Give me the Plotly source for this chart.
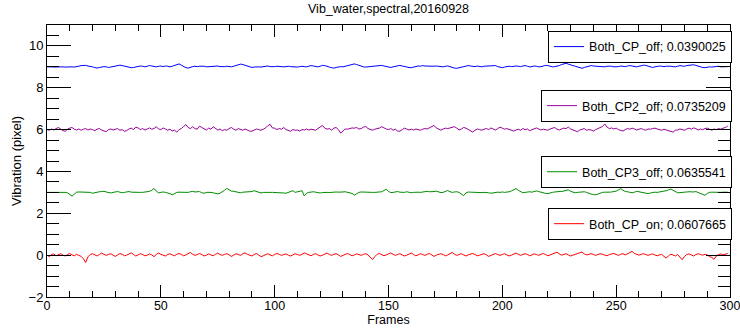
import plotly.graph_objects as go

frames = list(range(300))

blue = [
9.00, 9.01, 9.00, 8.99, 9.00, 9.01, 9.00, 9.00, 8.99, 9.00, 9.01, 9.00, 8.99, 9.00, 9.03, 9.06, 9.08, 9.07, 9.04, 9.03,
9.00, 8.97, 8.94, 8.97, 9.00, 9.01, 9.00, 8.97, 8.99, 9.01, 9.04, 9.07, 9.08, 9.06, 9.03, 9.00, 8.97, 8.96, 8.97, 9.00,
9.03, 9.04, 9.03, 9.00, 9.03, 9.06, 9.04, 9.01, 9.00, 9.03, 9.04, 9.01, 9.04, 9.03, 9.00, 9.03, 9.07, 9.11, 9.14, 9.08,
9.01, 8.96, 8.94, 8.99, 9.01, 9.03, 9.01, 9.03, 9.04, 9.03, 9.00, 9.01, 9.03, 9.01, 9.03, 9.04, 9.01, 9.00, 9.01, 9.03,
9.01, 9.00, 9.03, 9.06, 9.10, 9.13, 9.11, 9.07, 9.03, 9.00, 8.97, 8.99, 9.01, 9.00, 8.99, 9.00, 9.03, 9.04, 9.01, 9.00,
9.01, 9.03, 9.01, 8.99, 9.00, 9.01, 9.03, 9.01, 9.00, 8.97, 8.99, 9.01, 9.03, 9.01, 9.00, 9.03, 9.06, 9.04, 9.01, 9.00,
9.03, 9.07, 9.06, 9.01, 8.99, 8.96, 8.94, 8.97, 9.00, 9.01, 9.00, 9.03, 9.06, 9.10, 9.13, 9.14, 9.11, 9.07, 9.03, 9.00,
8.99, 9.00, 9.01, 9.00, 9.01, 9.03, 9.06, 9.07, 9.04, 9.01, 8.99, 8.97, 9.00, 9.03, 9.06, 9.07, 9.04, 9.01, 9.00, 8.97,
8.96, 8.99, 9.01, 9.04, 9.03, 9.06, 9.04, 9.03, 9.04, 9.01, 9.03, 9.04, 9.03, 9.01, 9.00, 9.03, 9.04, 9.01, 8.97, 8.94,
8.93, 8.96, 9.00, 9.03, 9.06, 9.06, 9.04, 9.03, 9.01, 9.04, 9.03, 9.00, 9.03, 9.04, 9.03, 9.06, 9.08, 9.06, 9.01, 8.97,
8.96, 8.99, 9.01, 9.03, 9.01, 9.03, 9.04, 9.03, 9.01, 9.04, 9.06, 9.03, 9.00, 9.01, 9.04, 9.03, 9.00, 9.01, 9.04, 9.07,
9.06, 9.03, 9.00, 9.01, 9.03, 9.06, 9.11, 9.15, 9.17, 9.13, 9.08, 9.06, 9.03, 8.99, 8.94, 8.93, 8.97, 9.01, 9.04, 9.06,
9.04, 9.03, 9.04, 9.03, 9.01, 9.00, 9.03, 9.04, 9.03, 9.00, 8.99, 9.01, 9.04, 9.03, 9.01, 9.04, 9.06, 9.04, 9.03, 9.00,
9.03, 9.06, 9.08, 9.07, 9.03, 9.00, 8.97, 9.00, 9.03, 9.04, 9.03, 9.01, 9.03, 9.04, 9.03, 9.01, 9.00, 9.03, 9.06, 9.04,
9.03, 9.06, 9.08, 9.11, 9.10, 9.07, 9.03, 9.00, 8.97, 8.96, 8.99, 9.00, 8.99, 9.01, 9.04, 9.03, 9.00, 9.01, 9.03, 9.01,
]

purple = [
6.00, 5.97, 6.03, 5.98, 6.05, 6.10, 6.03, 5.95, 5.92, 6.02, 6.07, 6.10, 6.02, 5.98, 6.03, 5.97, 6.02, 6.05, 5.98, 6.03,
6.00, 5.95, 6.02, 6.05, 5.98, 5.93, 5.90, 6.00, 6.03, 5.98, 6.02, 6.05, 5.97, 6.00, 5.92, 5.95, 6.03, 6.07, 6.00, 6.12,
6.08, 6.00, 6.05, 5.98, 6.03, 6.08, 6.02, 6.05, 6.14, 6.03, 6.00, 6.08, 6.03, 5.97, 6.02, 5.93, 5.98, 5.88, 6.00, 6.05,
6.15, 6.24, 6.10, 6.05, 6.14, 6.05, 6.02, 6.17, 6.10, 6.03, 5.98, 6.07, 6.02, 6.14, 6.05, 5.98, 6.03, 5.95, 6.00, 5.97,
6.05, 6.10, 6.02, 5.97, 6.05, 6.00, 5.97, 6.03, 5.98, 5.93, 5.92, 5.97, 6.03, 6.00, 5.97, 6.02, 6.08, 6.19, 6.25, 6.08,
6.07, 6.00, 6.05, 6.02, 6.10, 6.00, 5.95, 5.92, 6.00, 5.97, 5.98, 5.93, 6.00, 5.98, 6.03, 5.98, 6.02, 6.00, 5.97, 6.05,
6.14, 6.20, 6.07, 6.02, 6.05, 5.97, 6.07, 6.10, 6.00, 5.83, 5.93, 6.03, 6.02, 6.05, 6.08, 6.07, 6.10, 6.03, 6.05, 6.12,
6.15, 6.05, 6.00, 5.97, 6.02, 6.03, 6.07, 6.14, 6.07, 6.03, 6.00, 6.05, 5.97, 6.02, 5.93, 5.92, 6.00, 6.07, 6.03, 5.98,
6.02, 5.98, 6.03, 6.00, 5.97, 6.02, 6.05, 6.03, 6.10, 6.17, 6.20, 6.08, 6.02, 5.97, 6.03, 6.07, 6.05, 6.08, 6.12, 6.14,
6.07, 5.98, 6.03, 6.10, 6.07, 6.02, 5.95, 5.88, 5.97, 6.03, 6.00, 5.97, 6.02, 6.05, 6.00, 6.08, 6.03, 5.98, 6.05, 6.12,
6.07, 6.02, 6.05, 6.00, 5.97, 5.93, 5.98, 6.02, 5.97, 6.05, 6.00, 6.03, 5.95, 6.00, 6.05, 6.08, 6.03, 5.98, 6.02, 6.00,
5.97, 6.03, 6.07, 6.10, 6.02, 5.98, 6.03, 6.07, 6.05, 6.12, 6.03, 5.98, 5.95, 5.90, 5.98, 6.02, 6.05, 5.97, 6.00, 5.98,
5.93, 6.00, 6.05, 6.08, 6.15, 6.27, 6.12, 6.05, 6.08, 6.03, 6.07, 6.00, 5.97, 5.93, 6.00, 6.05, 6.02, 6.07, 6.03, 5.98,
6.02, 6.05, 6.00, 5.97, 6.03, 6.02, 6.05, 6.07, 6.03, 6.00, 5.97, 6.02, 5.98, 5.93, 5.90, 5.88, 5.97, 5.98, 6.03, 6.00,
5.97, 6.03, 6.07, 6.02, 6.08, 6.05, 5.98, 6.03, 6.00, 6.05, 6.07, 6.02, 5.97, 6.03, 6.00, 6.05, 6.02, 6.07, 6.10, 6.17,
]

green = [
3.00, 3.00, 3.01, 3.02, 3.01, 3.02, 3.01, 2.99, 3.00, 2.98, 2.92, 2.82, 2.92, 3.01, 3.02, 3.02, 3.02, 3.02, 3.01, 3.00,
2.96, 2.99, 3.01, 3.03, 3.04, 3.05, 3.02, 2.99, 2.97, 3.00, 3.02, 3.04, 3.01, 2.98, 3.00, 3.03, 3.04, 3.01, 3.00, 3.02,
3.01, 3.00, 3.00, 3.01, 3.03, 3.05, 3.10, 3.19, 3.06, 2.98, 3.00, 3.02, 3.00, 2.98, 2.94, 2.88, 2.95, 3.00, 3.01, 3.00,
3.02, 3.01, 3.00, 3.03, 3.05, 3.02, 3.03, 3.04, 2.98, 2.96, 3.00, 3.01, 3.00, 2.98, 2.97, 2.93, 2.96, 3.02, 3.10, 3.19,
3.12, 3.06, 3.05, 3.02, 3.00, 2.98, 3.01, 3.02, 3.03, 3.01, 3.04, 3.08, 3.05, 2.99, 2.97, 3.00, 3.01, 3.00, 3.00, 3.00,
3.00, 3.00, 2.99, 2.98, 2.97, 2.96, 3.00, 3.04, 3.08, 3.00, 3.02, 3.06, 3.08, 2.83, 2.96, 3.00, 3.02, 3.03, 3.01, 2.99,
2.97, 2.99, 3.01, 3.00, 2.99, 3.01, 3.00, 3.02, 3.01, 3.00, 3.02, 3.03, 3.01, 2.99, 2.95, 2.86, 2.95, 3.00, 3.02, 3.01,
3.00, 3.00, 3.01, 3.00, 3.00, 3.01, 3.00, 3.03, 3.09, 3.15, 3.05, 2.99, 3.00, 3.02, 3.04, 3.01, 2.99, 3.00, 3.03, 3.01,
2.98, 3.00, 3.02, 3.01, 3.00, 3.02, 3.04, 3.05, 3.03, 3.02, 3.04, 3.06, 3.03, 2.99, 3.00, 3.04, 3.09, 3.03, 3.00, 3.02,
3.03, 3.00, 2.92, 2.84, 2.97, 3.02, 3.01, 3.00, 3.00, 3.00, 3.00, 2.99, 3.00, 3.00, 2.98, 2.96, 2.98, 3.00, 3.01, 3.00,
3.02, 3.00, 3.01, 3.03, 3.07, 3.14, 3.18, 3.10, 3.03, 2.98, 3.00, 3.02, 3.03, 3.01, 3.04, 3.07, 3.04, 3.00, 2.97, 2.95,
2.94, 2.98, 3.00, 3.02, 3.03, 3.01, 3.03, 3.06, 3.10, 3.12, 3.05, 3.00, 2.98, 3.00, 3.02, 3.04, 3.03, 3.00, 2.95, 2.92,
2.90, 2.88, 2.92, 2.97, 3.00, 3.01, 3.00, 3.01, 3.02, 3.03, 3.06, 3.12, 3.18, 3.10, 3.04, 3.03, 3.00, 2.98, 3.01, 3.05,
3.03, 3.00, 2.98, 2.96, 2.94, 2.97, 3.00, 3.01, 3.00, 3.02, 3.01, 3.03, 3.08, 3.12, 3.16, 3.10, 3.03, 2.98, 2.99, 3.01,
3.00, 3.02, 3.03, 3.01, 3.02, 3.04, 3.00, 2.96, 2.90, 2.86, 2.95, 3.00, 3.01, 3.00, 3.00, 3.01, 3.00, 3.01, 3.00, 3.01,
]

red = [
0.00, -0.07, 0.03, 0.06, -0.03, 0.01, 0.07, 0.00, -0.04, 0.03, 0.08, 0.01, -0.03, 0.04, 0.00, -0.06, -0.17, -0.35, -0.08, 0.03,
0.07, 0.01, -0.04, 0.03, 0.10, 0.04, -0.01, 0.03, 0.07, 0.00, -0.06, 0.01, 0.08, 0.04, -0.03, 0.00, 0.06, 0.11, 0.03, -0.04,
0.01, 0.07, 0.03, -0.03, 0.00, 0.06, 0.01, -0.07, 0.03, 0.10, 0.04, 0.00, -0.04, 0.03, 0.07, 0.01, -0.03, 0.04, 0.08, 0.03,
-0.03, 0.01, 0.06, 0.13, 0.04, -0.01, 0.03, 0.08, 0.03, -0.04, 0.00, 0.06, 0.01, -0.03, 0.04, 0.10, 0.03, -0.01, 0.04, 0.07,
0.01, -0.06, 0.00, 0.07, 0.03, -0.01, 0.06, 0.11, 0.04, 0.00, -0.04, 0.03, 0.08, 0.01, -0.07, -0.03, 0.04, 0.07, 0.01, -0.03,
0.03, 0.08, 0.04, -0.01, 0.03, 0.06, 0.00, -0.04, 0.01, 0.07, 0.03, -0.01, 0.04, 0.11, 0.06, 0.00, -0.03, 0.04, 0.07, 0.01,
-0.04, 0.00, 0.06, 0.10, 0.03, -0.01, 0.04, 0.07, 0.01, -0.06, -0.01, 0.04, 0.08, 0.03, -0.03, 0.01, 0.06, 0.03, -0.01, 0.04,
0.07, 0.01, -0.08, -0.21, -0.07, 0.04, 0.08, 0.03, -0.03, 0.01, 0.06, 0.11, 0.04, -0.01, 0.03, 0.07, 0.01, -0.04, 0.00, 0.06,
0.10, 0.03, -0.03, 0.01, 0.07, 0.03, -0.01, 0.04, 0.08, 0.01, -0.06, 0.00, 0.04, 0.07, 0.03, -0.03, 0.01, 0.06, 0.13, 0.04,
-0.01, 0.03, 0.07, 0.01, -0.04, 0.01, 0.06, 0.08, 0.03, -0.03, 0.00, 0.04, 0.07, 0.01, -0.06, -0.01, 0.04, 0.08, 0.03, -0.01,
0.03, 0.07, 0.01, -0.04, 0.00, 0.06, 0.10, 0.04, -0.01, 0.03, 0.07, 0.03, -0.03, 0.01, 0.06, 0.03, -0.01, 0.04, 0.08, 0.03,
-0.03, 0.01, 0.06, 0.10, 0.14, 0.06, 0.00, 0.03, 0.07, 0.01, -0.04, 0.00, 0.04, 0.08, 0.13, 0.15, 0.06, 0.01, 0.04, 0.07,
0.03, -0.01, 0.03, 0.07, 0.04, 0.00, -0.03, 0.03, 0.06, 0.08, 0.03, -0.01, 0.04, 0.07, 0.01, 0.06, 0.11, 0.18, 0.08, 0.03,
0.00, 0.04, 0.07, 0.03, -0.01, 0.03, 0.06, 0.01, -0.03, 0.01, 0.04, -0.06, -0.14, -0.03, 0.04, 0.01, -0.04, 0.03, -0.08, -0.22,
-0.06, 0.03, 0.06, 0.01, -0.04, 0.03, 0.07, 0.03, 0.00, 0.04, 0.01, -0.07, -0.11, -0.20, -0.04, 0.03, 0.06, 0.01, 0.04, 0.08,
]

series_names = ["Both_CP_off; 0.0390025", "Both_CP2_off; 0.0735209",
                "Both_CP3_off; 0.0635541", "Both_CP_on; 0.0607665"]
series_values = [blue, purple, green, red]
series_colors = ["#0000ff", "#990099", "#008c00", "#ff0000"]
legend_ids = ["legend", "legend2", "legend3", "legend4"]
legend_tops = [0.978, 0.761, 0.518, 0.327]

FONT = "Liberation Sans, Arial, Helvetica, sans-serif"

fig = go.Figure()
for name, vals, col, lid in zip(series_names, series_values, series_colors, legend_ids):
    fig.add_trace(go.Scatter(x=frames, y=vals, mode="lines", name=name,
                             line=dict(color=col, width=1), legend=lid))

layout_legends = {}
for lid, top in zip(legend_ids, legend_tops):
    layout_legends[lid] = dict(x=1.003, y=top, xanchor="right", yanchor="top",
                               bordercolor="black", borderwidth=1, bgcolor="white",
                               itemwidth=30, tracegroupgap=0,
                               font=dict(family=FONT, size=12.5, color="black"))

fig.update_layout(
    width=740, height=329,
    margin=dict(l=47, r=10, t=25, b=32, autoexpand=False),
    paper_bgcolor="white", plot_bgcolor="white",
    font=dict(family=FONT, size=13, color="black"),
    showlegend=True,
    title=dict(text="Vib_water,spectral,20160928", x=0.5, xref="paper",
               y=1 - 9 / 329, yref="container", yanchor="middle",
               font=dict(family=FONT, size=12.5, color="black")),
    **layout_legends,
)

fig.update_xaxes(range=[0, 300], showline=True, linecolor="black", linewidth=1,
                 mirror="ticks", ticks="inside", ticklen=12, tickcolor="black", tickwidth=1,
                 tick0=0, dtick=50, showgrid=False, zeroline=False, automargin=False,
                 ticklabeloverflow="allow", ticklabelstandoff=-3,
                 minor=dict(ticks="inside", ticklen=6, dtick=10, tickcolor="black", showgrid=False),
                 title=dict(text="Frames", standoff=0, font=dict(size=12.5)),
                 tickfont=dict(size=12.5))
fig.update_yaxes(range=[-2, 11], showline=True, linecolor="black", linewidth=1,
                 mirror="ticks", ticks="inside", ticklen=24, tickcolor="black", tickwidth=1,
                 tick0=0, dtick=2, showgrid=False, zeroline=False, automargin=False,
                 minor=dict(ticks="inside", ticklen=12, dtick=0.5, tickcolor="black", showgrid=False),
                 title=dict(text="Vibration (pixel)", standoff=4, font=dict(size=13)),
                 tickfont=dict(size=13))

fig.write_html("out.html")
